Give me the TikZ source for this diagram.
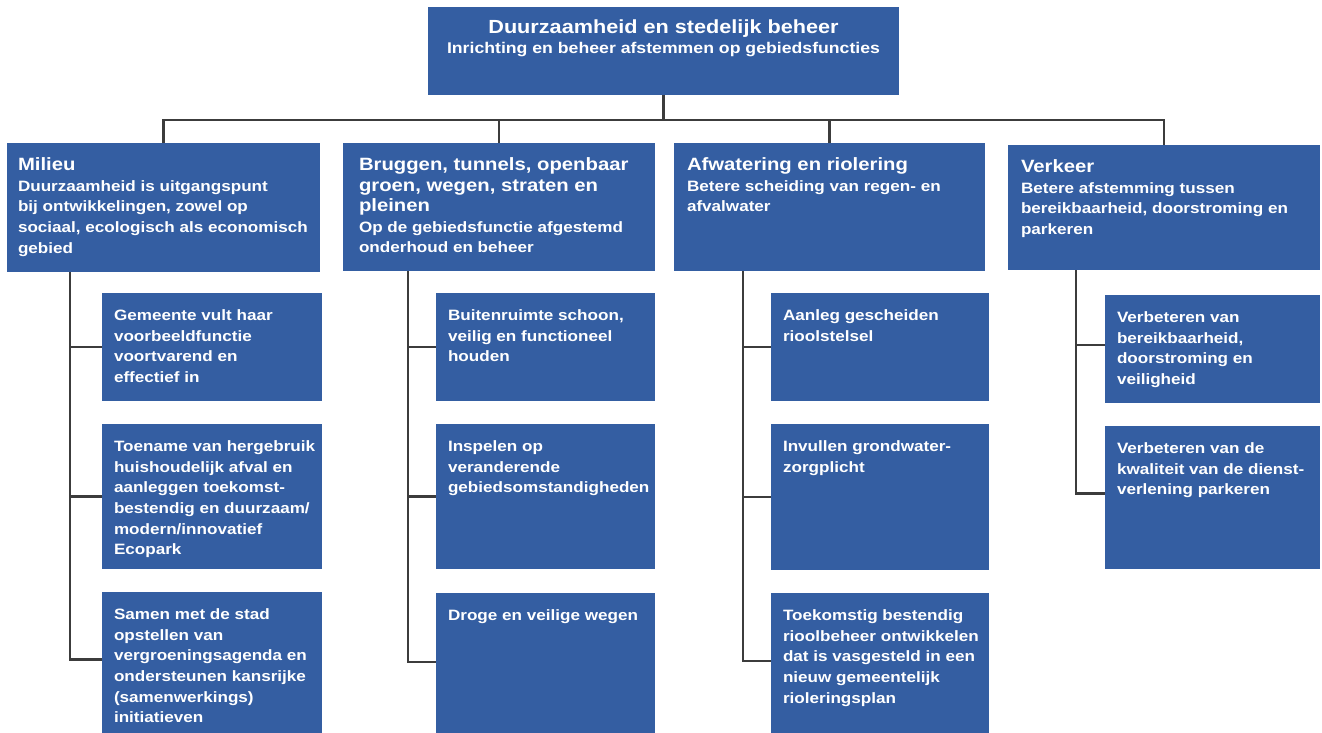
\documentclass[tikz,border=0pt]{standalone}
\usepackage{fontspec}
\setmainfont{Liberation Sans}[FakeStretch=1.14]
\definecolor{boxblue}{RGB}{52,94,162}
\definecolor{linegray}{RGB}{60,60,60}
\tikzset{
  blk/.style={fill=boxblue, draw=none, inner sep=0pt, outer sep=0pt, anchor=north west},
  conn/.style={draw=linegray, line width=2.3pt},
  txt/.style={text=white, inner sep=0pt, outer sep=0pt, font=\bfseries},
}
\newcommand\ftitle{\fontsize{19}{20}\selectfont}
\newcommand\fsubtitle{\fontsize{15.5}{20}\selectfont}
\newcommand\fhead{\fontsize{17.8}{20.5}\selectfont}
\newcommand\fsub{\fontsize{15}{20.6}\selectfont}
\newcommand\tx[3]{\node[txt, anchor=base west] (#1t) at ([shift={(#2pt,-27.7pt)}]#1.north west) {\parbox[t]{300pt}{\raggedright #3}};}
\begin{document}
\begin{tikzpicture}[x=1pt,y=1pt]
\useasboundingbox (0,0) rectangle (1322,-733);
% connectors (drawn first, boxes on top)
\coordinate (bus) at (0,-120);
\coordinate (mtr) at (70,0);
\coordinate (btr) at (408,0);
\coordinate (atr) at (743,0);
\coordinate (vtr) at (1076,0);
% boxes
\node[blk, minimum width=471pt, minimum height=88pt] (top) at (428,-7) {};
\node[blk, minimum width=313pt, minimum height=129pt] (milieu) at (7,-143) {};
\node[blk, minimum width=312pt, minimum height=128pt] (bruggen) at (343,-143) {};
\node[blk, minimum width=311pt, minimum height=128pt] (afw) at (674,-143) {};
\node[blk, minimum width=312pt, minimum height=125pt] (verkeer) at (1008,-145) {};
\node[blk, minimum width=220pt, minimum height=108pt] (m1) at (102,-293) {};
\node[blk, minimum width=220pt, minimum height=145pt] (m2) at (102,-424) {};
\node[blk, minimum width=220pt, minimum height=141pt] (m3) at (102,-592) {};
\node[blk, minimum width=219pt, minimum height=108pt] (b1) at (436,-293) {};
\node[blk, minimum width=219pt, minimum height=145pt] (b2) at (436,-424) {};
\node[blk, minimum width=219pt, minimum height=140pt] (b3) at (436,-593) {};
\node[blk, minimum width=218pt, minimum height=108pt] (a1) at (771,-293) {};
\node[blk, minimum width=218pt, minimum height=146pt] (a2) at (771,-424) {};
\node[blk, minimum width=218pt, minimum height=140pt] (a3) at (771,-593) {};
\node[blk, minimum width=215pt, minimum height=108pt] (v1) at (1105,-295) {};
\node[blk, minimum width=215pt, minimum height=143pt] (v2) at (1105,-426) {};
% title text
\node[txt, anchor=base] (topt) at ([yshift=-26.3pt]top.north) {\parbox[t]{460pt}{\centering\ftitle Duurzaamheid en stedelijk beheer\par\fsubtitle Inrichting en beheer afstemmen op gebiedsfuncties}};
% level 1 texts
\tx{milieu}{11}{\fhead Milieu\par\fsub Duurzaamheid is uitgangspunt\\bij ontwikkelingen, zowel op\\sociaal, ecologisch als economisch\\gebied}
\tx{bruggen}{16}{\fhead Bruggen, tunnels, openbaar\\groen, wegen, straten en\\pleinen\par\fsub Op de gebiedsfunctie afgestemd\\onderhoud en beheer}
\tx{afw}{13}{\fhead Afwatering en riolering\par\fsub Betere scheiding van regen- en\\afvalwater}
\tx{verkeer}{13}{\fhead Verkeer\par\fsub Betere afstemming tussen\\bereikbaarheid, doorstroming en\\parkeren}
% children texts
\tx{m1}{12}{\fsub Gemeente vult haar\\voorbeeldfunctie\\voortvarend en\\effectief in}
\tx{m2}{12}{\fsub Toename van hergebruik\\huishoudelijk afval en\\aanleggen toekomst-\\bestendig en duurzaam/\\modern/innovatief\\Ecopark}
\tx{m3}{12}{\fsub Samen met de stad\\opstellen van\\vergroeningsagenda en\\ondersteunen kansrijke\\(samenwerkings)\\initiatieven}
\tx{b1}{12}{\fsub Buitenruimte schoon,\\veilig en functioneel\\houden}
\tx{b2}{12}{\fsub Inspelen op\\veranderende\\gebiedsomstandigheden}
\tx{b3}{12}{\fsub Droge en veilige wegen}
\tx{a1}{12}{\fsub Aanleg gescheiden\\rioolstelsel}
\tx{a2}{12}{\fsub Invullen grondwater-\\zorgplicht}
\tx{a3}{12}{\fsub Toekomstig bestendig\\rioolbeheer ontwikkelen\\dat is vasgesteld in een\\nieuw gemeentelijk\\rioleringsplan}
\tx{v1}{12}{\fsub Verbeteren van\\bereikbaarheid,\\doorstroming en\\veiligheid}
\tx{v2}{12}{\fsub Verbeteren van de\\kwaliteit van de dienst-\\verlening parkeren}
% connectors
\begin{scope}[on background layer/.style={}]
\draw[conn] (milieu.north) -- (milieu.north |- bus) -- (verkeer.north |- bus) -- (verkeer.north);
\draw[conn] (top.south) -- (top.south |- bus);
\draw[conn] (bruggen.north) -- (bruggen.north |- bus);
\draw[conn] (afw.north) -- (afw.north |- bus);
\draw[conn] (milieu.south -| mtr) |- ([yshift=3pt]m3.west);
\draw[conn] (m1.west -| mtr) -- (m1.west);
\draw[conn] (m2.west -| mtr) -- (m2.west);
\draw[conn] (bruggen.south -| btr) |- ([yshift=1pt]b3.west);
\draw[conn] (b1.west -| btr) -- (b1.west);
\draw[conn] (b2.west -| btr) -- (b2.west);
\draw[conn] (afw.south -| atr) |- ([yshift=2pt]a3.west);
\draw[conn] (a1.west -| atr) -- (a1.west);
\draw[conn] (a2.west -| atr) -- (a2.west);
\draw[conn] (verkeer.south -| vtr) |- ([yshift=4pt]v2.west);
\draw[conn] ([yshift=4pt]v1.west -| vtr) -- ([yshift=4pt]v1.west);
\end{scope}
\end{tikzpicture}
\end{document}
